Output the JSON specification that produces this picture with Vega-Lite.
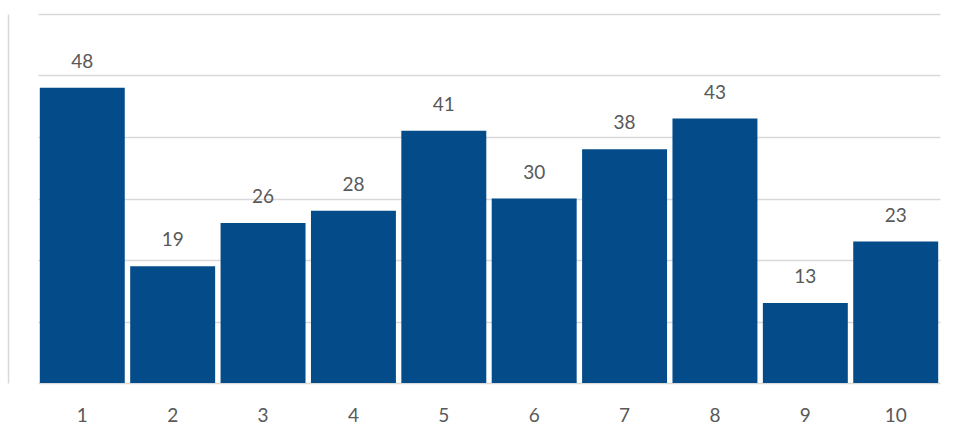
{
  "$schema": "https://vega.github.io/schema/vega-lite/v6.json",
  "autosize": "none",
  "width": 902,
  "height": 369,
  "padding": {"left": 38, "top": 14, "right": 21, "bottom": 56},
  "background": "white",
  "config": {"view": {"stroke": null}, "font": "Lato"},
  "data": {"values": [
    {"c": "1", "v": 48}, {"c": "2", "v": 19}, {"c": "3", "v": 26}, {"c": "4", "v": 28},
    {"c": "5", "v": 41}, {"c": "6", "v": 30}, {"c": "7", "v": 38}, {"c": "8", "v": 43},
    {"c": "9", "v": 13}, {"c": "10", "v": 23}
  ]},
  "encoding": {
    "x": {"field": "c", "type": "ordinal", "sort": null, "title": null,
      "scale": {"paddingInner": 0.06, "paddingOuter": 0.02},
      "axis": {"labelAngle": 0, "ticks": false, "domain": false, "labelFontSize": 19, "labelColor": "#595959", "labelPadding": 23, "labelFont": "Lato"}},
    "y": {"field": "v", "type": "quantitative", "title": null,
      "scale": {"domain": [0, 60], "nice": false},
      "axis": {"values": [0, 10, 20, 30, 40, 50, 60], "labels": false, "ticks": false, "domain": true, "domainColor": "#d9d9d9", "domainWidth": 1.5, "offset": 30, "gridColor": "#d9d9d9", "gridWidth": 1.5}}
  },
  "layer": [
    {"mark": {"type": "bar", "color": "#034B89"}},
    {"mark": {"type": "text", "baseline": "bottom", "dy": -16, "fontSize": 19, "color": "#595959", "font": "Lato"},
     "encoding": {"text": {"field": "v", "type": "quantitative"}}}
  ]
}
